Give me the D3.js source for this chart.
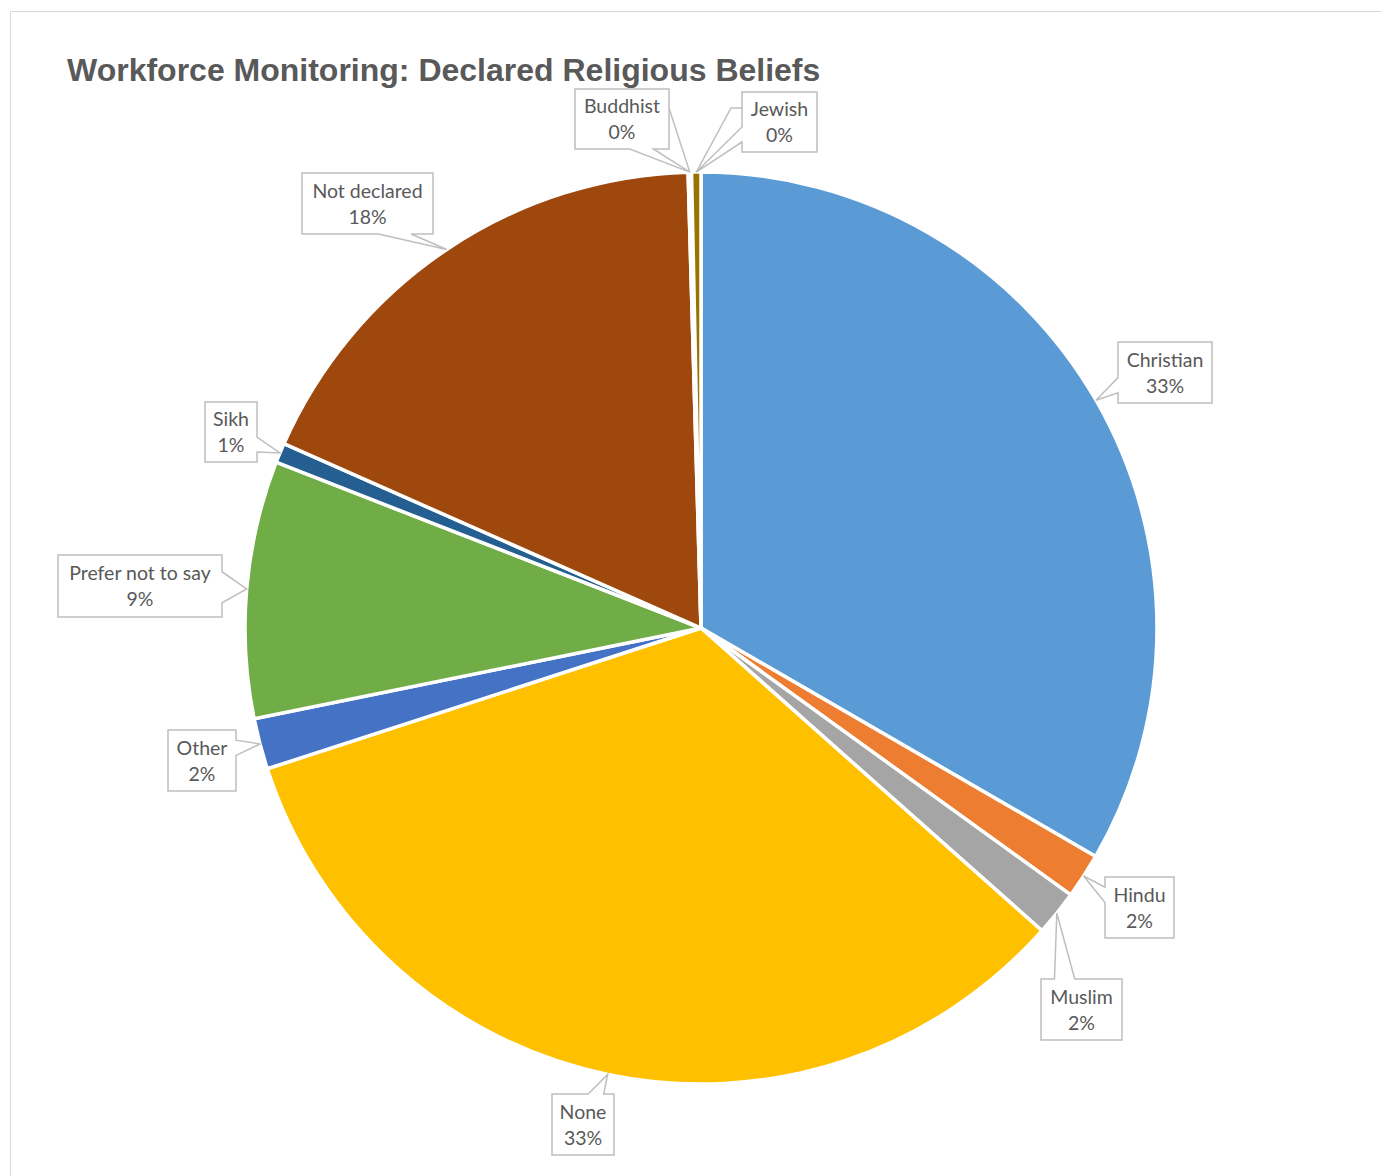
<!DOCTYPE html>
<html>
<head>
<meta charset="utf-8">
<script src="https://cdn.jsdelivr.net/npm/d3@7"></script>
<style>
  html, body { margin: 0; padding: 0; background: #ffffff; }
  svg { display: block; }
</style>
</head>
<body>
<svg id="chart" width="1381" height="1176"></svg>
<script>
// ---- data ----
const categories = ["Christian", "Hindu", "Muslim", "None", "Other", "Prefer not to say", "Sikh", "Not declared", "Buddhist", "Jewish"];
const shares = [33.3, 1.6, 1.6, 33.4, 1.8, 9.1, 0.7, 17.9, 0.12, 0.33];
const colors = ["#5B9BD5", "#ED7D31", "#A5A5A5", "#FFC000", "#4472C4", "#70AD47", "#255E91", "#9E480E", "#636363", "#997300"];
const title = "Workforce Monitoring: Declared Religious Beliefs";

// ---- layout (label callout boxes) ----
const labelBoxes = [
  { x: 1118, y: 342, w: 94, h: 61 },
  { x: 1105, y: 877, w: 69, h: 61 },
  { x: 1041, y: 979, w: 81, h: 61 },
  { x: 552, y: 1094, w: 62, h: 61 },
  { x: 168, y: 730, w: 68, h: 61 },
  { x: 58, y: 555, w: 164, h: 62, base: [0.27, 0.77] },
  { x: 205, y: 402, w: 52, h: 60 },
  { x: 302, y: 173, w: 131, h: 61 },
  { x: 575, y: 89, w: 94, h: 60, leader: [[669, 108]] },
  { x: 742, y: 92, w: 75, h: 60, leader: [[742, 108], [731, 108]] }
];

const W = 1381, H = 1176;
const cx = 701, cy = 628, R = 456;
const svg = d3.select("#chart");

// frame
svg.append("path")
  .attr("d", `M10.5,${H} L10.5,11.5 L${W},11.5`)
  .attr("fill", "none").attr("stroke", "#d9d9d9").attr("stroke-width", 1);

// title
svg.append("text")
  .attr("x", 67).attr("y", 81)
  .attr("font-family", "'Liberation Sans', Arial, sans-serif")
  .attr("font-weight", "bold")
  .attr("font-size", 32)
  .attr("fill", "#595959")
  .text(title);

const data = categories.map((c, i) => ({ name: c, value: shares[i], color: colors[i], box: labelBoxes[i] }));
const total = d3.sum(shares);

const pie = d3.pie().value(d => d.value).sort(null);
const arcs = pie(data);
const arc = d3.arc().innerRadius(0).outerRadius(R);

const g = svg.append("g").attr("transform", `translate(${cx},${cy})`);
g.selectAll("path.slice").data(arcs).join("path")
  .attr("class", "slice")
  .attr("d", arc)
  .attr("fill", d => d.data.color)
  .attr("stroke", "#ffffff")
  .attr("stroke-width", 3.5)
  .attr("stroke-linejoin", "round");

// callouts
function calloutPath(b, tx, ty) {
  const l = b.x, t = b.y, r = b.x + b.w, bt = b.y + b.h;
  const hc = l + b.w / 2, vc = t + b.h / 2;
  const dx = tx - hc, dy = ty - vc;
  const dq = dx * b.h / b.w;
  const dz = Math.abs(dy) - Math.abs(dq);
  let side;
  if (dz > 0) side = dy < 0 ? "top" : "bottom";
  else side = dx < 0 ? "left" : "right";
  let f1, f2;
  if (side === "top" || side === "bottom") {
    [f1, f2] = dx > 0 ? [7 / 12, 10 / 12] : [2 / 12, 5 / 12];
  } else {
    [f1, f2] = dy > 0 ? [7 / 12, 10 / 12] : [2 / 12, 5 / 12];
  }
  if (b.base) [f1, f2] = b.base;
  const x1 = l + b.w * f1, x2 = l + b.w * f2;
  const y1 = t + b.h * f1, y2 = t + b.h * f2;
  const p = [];
  p.push([l, t]);
  if (side === "top") p.push([x1, t], [tx, ty], [x2, t]);
  p.push([r, t]);
  if (side === "right") p.push([r, y1], [tx, ty], [r, y2]);
  p.push([r, bt]);
  if (side === "bottom") p.push([x2, bt], [tx, ty], [x1, bt]);
  p.push([l, bt]);
  if (side === "left") p.push([l, y2], [tx, ty], [l, y1]);
  return "M" + p.map(q => q[0] + "," + q[1]).join("L") + "Z";
}

const labels = svg.append("g");
arcs.forEach(a => {
  const b = a.data.box;
  const mid = (a.startAngle + a.endAngle) / 2;
  const tx = cx + R * Math.sin(mid);
  const ty = cy - R * Math.cos(mid);
  if (b.leader) {
    const pts = b.leader.concat([[tx, ty]]);
    labels.append("path")
      .attr("d", d3.line()(pts))
      .attr("fill", "none").attr("stroke", "#bfbfbf").attr("stroke-width", 1.5);
  }
  labels.append("path")
    .attr("d", calloutPath(b, tx, ty))
    .attr("fill", "#ffffff")
    .attr("stroke", "#bfbfbf")
    .attr("stroke-width", 1.5)
    .attr("stroke-linejoin", "miter");
  const pct = Math.round(a.data.value / total * 100) + "%";
  const t = labels.append("text")
    .attr("font-family", "Lato, 'Open Sans', sans-serif")
    .attr("font-size", 19.5)
    .attr("fill", "#595959")
    .attr("text-anchor", "middle");
  const mx = b.x + b.w / 2, my = b.y + b.h / 2;
  t.append("tspan").attr("x", mx).attr("y", my - 6).text(a.data.name);
  t.append("tspan").attr("x", mx).attr("y", my + 20).text(pct);
});
</script>
</body>
</html>
